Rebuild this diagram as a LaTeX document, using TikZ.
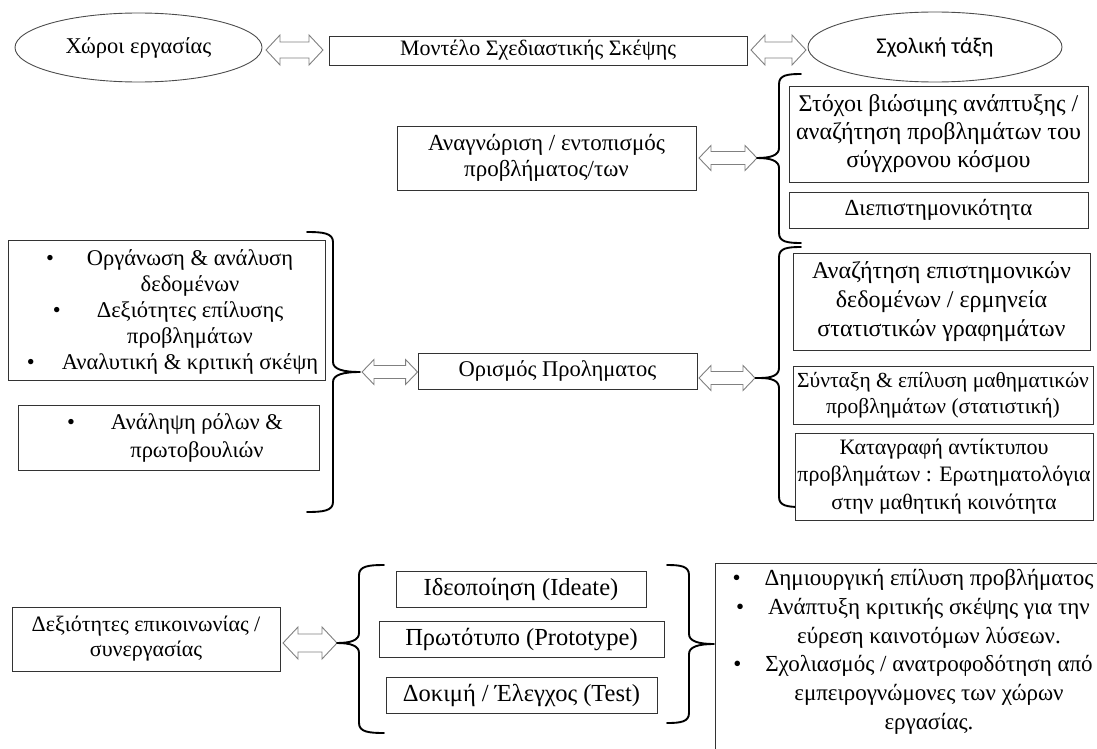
\documentclass[tikz,border=0pt]{standalone}
\usepackage{fontspec}
\setmainfont{Liberation Serif}
\newfontfamily\classfont{Carlito}
\usetikzlibrary{shapes.geometric,calc}

\newcommand\fsz[2]{\fontsize{#1}{#2}\selectfont}
% bullet hanging to the left of a centred line
\newcommand\bul[1][28pt]{\makebox[0pt][r]{\textbullet\hspace{#1}}}

% curly brace: #1 spine x, #2 top y, #3 bottom y, #4 tip x, #5 tip y, #6 hook x
\newcommand\curlybrace[6]{%
  \draw[bracepath] (#6,#2) .. controls ({#1+0.4*(#6-#1)},#2) and (#1,#2+1) .. (#1,#2+10)
    -- (#1,#5-10) .. controls (#1,#5-3) and ({#1+0.35*(#4-#1)},#5) .. (#4,#5)
    .. controls ({#1+0.35*(#4-#1)},#5) and (#1,#5+3) .. (#1,#5+10)
    -- (#1,#3-10) .. controls (#1,#3-1) and ({#1+0.4*(#6-#1)},#3) .. (#6,#3);}

% hollow two-headed block arrow between two points at the height of the first:
% #1 from, #2 to, #3 half head width, #4 half shaft width, #5 head length
\newcommand\blockarrow[5]{%
  \draw[arrowline] let \p1=#1, \p2=#2 in
    (\x1,\y1) -- (\x1+#5,\y1+#3) -- (\x1+#5,\y1+#4) -- (\x2-#5,\y1+#4)
    -- (\x2-#5,\y1+#3) -- (\x2,\y1) -- (\x2-#5,\y1-#3) -- (\x2-#5,\y1-#4)
    -- (\x1+#5,\y1-#4) -- (\x1+#5,\y1-#3) -- cycle;}

\tikzset{
  box/.style={draw=black!80, line width=0.9pt, fill=white, inner sep=0pt, align=center},
  oval/.style={ellipse, draw=black!70, line width=0.9pt, inner sep=0pt},
  arrowline/.style={draw=black!50, line width=0.9pt, fill=white, line join=miter},
  bracepath/.style={line width=1.9pt, line cap=round, line join=round},
  txt/.style={align=center, inner sep=0pt},
}

\begin{document}
\begin{tikzpicture}[x=1pt,y=-1pt]
\useasboundingbox (0,0) rectangle (1097,749);
\clip (0,0) rectangle (1097,749);

% ---- top row
\node[oval, minimum width=247, minimum height=69, font=\fsz{22.5}{26}] (work) at (138.5,47.5) {Χώροι εργασίας};
\node[box, minimum width=418, minimum height=29, font=\fsz{22}{26}] (model) at (538,50.5) {Μοντέλο Σχεδιαστικής Σκέψης};
\node[oval, minimum width=254, minimum height=70, font=\classfont\fsz{22.5}{26}] (class) at (935,47) {Σχολική τάξη};
\coordinate (aw1) at (266,50);   \coordinate (aw2) at (323,50);
\coordinate (ac1) at (751,50);   \coordinate (ac2) at (806,50);
\blockarrow{(aw1)}{(aw2)}{15pt}{8pt}{14pt}
\blockarrow{(ac1)}{(ac2)}{15pt}{8pt}{14pt}

% ---- problem identification
\node[box, minimum width=299, minimum height=64, font=\fsz{23}{26.5}] (recog) at (546.5,158)
  {Αναγνώριση / εντοπισμός\\προβλήματος/των};
\coordinate (b2tip) at (757,158);
\coordinate (ar1) at (699,158);
\blockarrow{(ar1)}{(b2tip)}{12.5pt}{6.5pt}{12pt}
\curlybrace{779}{74}{243}{757}{158}{801}

\node[box, minimum width=299, minimum height=96, font=\fsz{24}{28}] (goals) at (938.5,134)
  {Στόχοι βιώσιμης ανάπτυξης /\\αναζήτηση προβλημάτων του\\σύγχρονου κόσμου};
\node[box, minimum width=299, minimum height=36, font=\fsz{23}{26}] (inter) at (938.5,210) {Διεπιστημονικότητα};

% ---- problem definition
\node[box, minimum width=317, minimum height=140] (skills) at (166.5,310) {};
\node[txt, font=\fsz{22.5}{26}] (skillstext) at (190,312)
  {\bul[33pt]Οργάνωση \& ανάλυση\\δεδομένων\\\bul[36pt]Δεξιότητες επίλυσης\\προβλημάτων\\\bul[27pt]Αναλυτική \& κριτική σκέψη};
\node[box, minimum width=301, minimum height=65] (roles) at (168.5,437.5) {};
\node[txt, font=\fsz{22.5}{28}] (rolestext) at (197,438)
  {\bul[36pt]Ανάληψη ρόλων \&\\πρωτοβουλιών};
\curlybrace{333}{232}{512}{360}{372}{307}
\coordinate (b1tip) at (360,372);

\node[box, minimum width=279, minimum height=36, font=\fsz{22.5}{26}] (define) at (557.5,371) {Ορισμός Προληματος};
\coordinate (ad1) at (362,372);
\blockarrow{(ad1)}{(define.west)}{12.5pt}{6.5pt}{12pt}
\coordinate (ad2) at (699,378);
\coordinate (ad3) at (755,378);
\blockarrow{(ad2)}{(ad3)}{12.5pt}{6.5pt}{12pt}
\coordinate (b3tip) at (760,378);
\draw[line width=1.2pt] (ad3) -- (b3tip);
\curlybrace{779}{247}{507}{760}{378}{801}

\node[box, minimum width=297, minimum height=97, font=\fsz{24}{29}] (search) at (941.5,301.5)
  {Αναζήτηση επιστημονικών\\δεδομένων / ερμηνεία\\στατιστικών γραφημάτων};
\node[box, minimum width=300, minimum height=58, font=\fsz{21.5}{26}] (compose) at (943,395)
  {Σύνταξη \& επίλυση μαθηματικών\\προβλημάτων (στατιστική)};
\node[box, minimum width=298, minimum height=87, font=\fsz{22}{27.5}] (record) at (944,476.5)
  {Καταγραφή αντίκτυπου\\προβλημάτων : Ερωτηματολόγια\\στην μαθητική κοινότητα};

% ---- ideation, prototype, test
\node[box, minimum width=268, minimum height=64, font=\fsz{22}{25}] (comm) at (146,639)
  {Δεξιότητες επικοινωνίας /\\συνεργασίας};
\coordinate (b4tip) at (337,643);
\coordinate (ab1) at (283,643);
\blockarrow{(ab1)}{(b4tip)}{16pt}{9pt}{15pt}
\curlybrace{359}{565}{733}{337}{643}{384}

\node[box, minimum width=250, minimum height=36, font=\fsz{24.5}{28}] (ideate) at (521,589) {Ιδεοποίηση (Ideate)};
\node[box, minimum width=285, minimum height=36, font=\fsz{24.5}{28}] (proto) at (521.5,639) {Πρωτότυπο (Prototype)};
\node[box, minimum width=271, minimum height=36, font=\fsz{24.5}{28}] (test) at (521.5,695) {Δοκιμή / Έλεγχος (Test)};
\curlybrace{689}{565}{723}{714}{644}{667}
\coordinate (b5tip) at (714,644);

\node[box, anchor=north west, minimum width=420, minimum height=220] (outbox) at (715,563) {};
\node[txt, anchor=north, font=\fsz{23}{28.8}] (outtext) at (929,569)
  {\bul[24pt]Δημιουργική επίλυση προβλήματος\\
   \bul[24pt]Ανάπτυξη κριτικής σκέψης για την\\
   εύρεση καινοτόμων λύσεων.\\
   \bul[24pt]Σχολιασμός / ανατροφοδότηση από\\
   εμπειρογνώμονες των χώρων\\
   εργασίας.};
\end{tikzpicture}
\end{document}
